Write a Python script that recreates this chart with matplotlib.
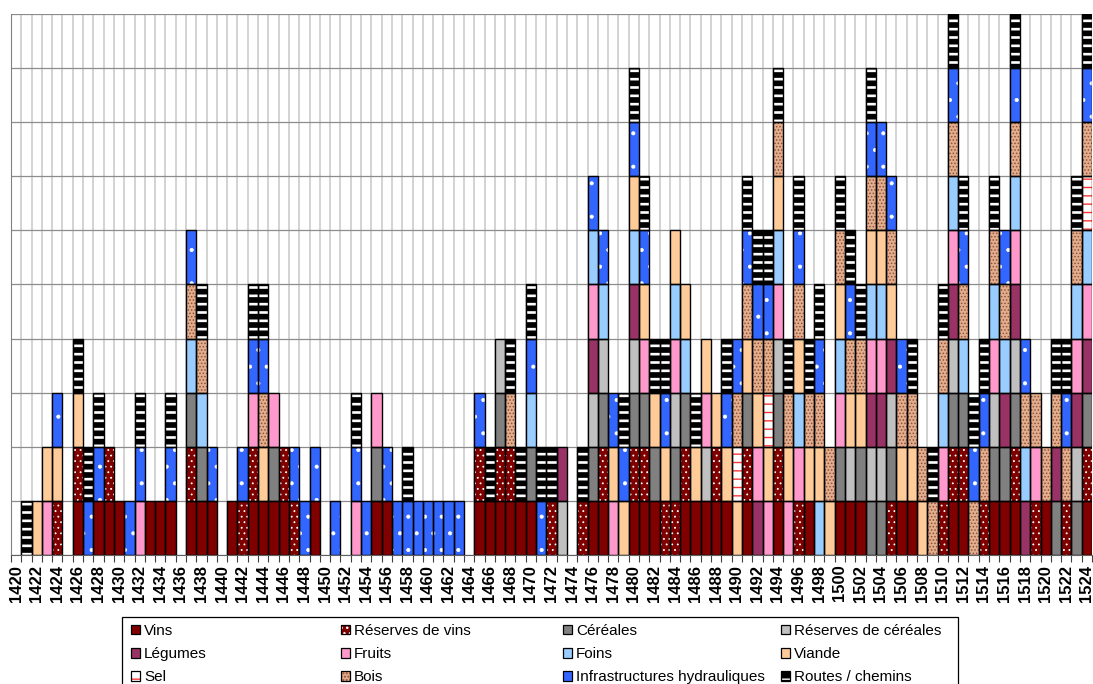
import numpy as np
import matplotlib
matplotlib.use("Agg")
import matplotlib.pyplot as plt
from matplotlib.patches import Patch, Rectangle
from matplotlib.legend_handler import HandlerTuple

plt.rcParams['font.family'] = ['Liberation Sans', 'DejaVu Sans']

# ---------------- data (years in which one block of each category is present) ----------------
years = list(range(1420, 1525))

labels = ["Vins", "Réserves de vins", "Céréales", "Réserves de céréales",
          "Légumes", "Fruits", "Foins", "Viande",
          "Sel", "Bois", "Infrastructures hydrauliques", "Routes / chemins"]

vins = [1426, 1428, 1429, 1430, 1433, 1434, 1435, 1437, 1438, 1439, 1441, 1443, 1444,
        1445, 1446, 1449, 1455, 1456, 1465, 1466, 1467, 1468, 1469, 1470, 1476, 1477,
        1480, 1481, 1482, 1485, 1486, 1487, 1488, 1489, 1491, 1494, 1497, 1500, 1501,
        1502, 1506, 1507, 1511, 1512, 1515, 1516, 1517, 1520, 1524]
reserves_vins = [1424, 1426, 1429, 1437, 1442, 1443, 1446, 1447, 1465, 1467, 1468, 1472,
                 1475, 1477, 1480, 1481, 1483, 1484, 1485, 1488, 1491, 1494, 1496, 1505,
                 1510, 1511, 1512, 1514, 1517, 1519, 1522, 1524]
cereales = [1437, 1438, 1445, 1455, 1467, 1470, 1476, 1477, 1480, 1481, 1482, 1484, 1485,
            1491, 1494, 1500, 1502, 1503, 1504, 1505, 1511, 1512, 1515, 1516, 1517, 1521,
            1523, 1524]
reserves_cereales = [1467, 1473, 1476, 1477, 1480, 1484, 1487, 1494, 1501, 1503, 1504,
                     1505, 1511, 1515, 1517, 1523]
legumes = [1473, 1476, 1480, 1492, 1503, 1504, 1505, 1511, 1516, 1517, 1518, 1521, 1523, 1524]
fruits = [1423, 1432, 1443, 1445, 1453, 1455, 1476, 1478, 1481, 1484, 1487, 1492, 1493,
          1494, 1495, 1496, 1500, 1503, 1504, 1510, 1511, 1515, 1517, 1519, 1523, 1524]
foins = [1437, 1438, 1470, 1476, 1477, 1480, 1484, 1485, 1494, 1496, 1498, 1500, 1503,
         1504, 1510, 1511, 1512, 1515, 1516, 1517, 1518, 1523, 1524]
viande = [1422, 1423, 1424, 1426, 1444, 1478, 1479, 1480, 1481, 1482, 1483, 1484, 1485,
          1486, 1487, 1488, 1489, 1490, 1491, 1492, 1493, 1494, 1495, 1496, 1497, 1498,
          1499, 1500, 1501, 1502, 1503, 1504, 1505, 1506, 1507, 1508]
sel = [1490, 1493, 1524]
bois = [1437, 1438, 1444, 1468, 1490, 1491, 1492, 1493, 1494, 1495, 1496, 1497, 1498,
        1499, 1500, 1501, 1502, 1503, 1504, 1505, 1506, 1507, 1508, 1509, 1510, 1511,
        1512, 1513, 1514, 1515, 1516, 1517, 1518, 1519, 1520, 1521, 1522, 1523, 1524]
hydrauliques = [1424, 1427, 1428, 1431, 1432, 1435, 1437, 1439, 1442, 1443, 1444, 1447,
                1448, 1449, 1451, 1453, 1454, 1456, 1457, 1458, 1459, 1460, 1461, 1462,
                1463, 1465, 1470, 1471, 1476, 1477, 1478, 1479, 1480, 1481, 1483, 1489,
                1490, 1491, 1492, 1493, 1496, 1498, 1501, 1503, 1504, 1505, 1506, 1511,
                1512, 1513, 1514, 1516, 1517, 1518, 1522, 1524]
routes = [1421, 1426, 1427, 1428, 1432, 1435, 1438, 1443, 1444, 1453, 1458, 1466, 1468,
          1469, 1470, 1471, 1472, 1475, 1479, 1480, 1481, 1482, 1483, 1486, 1489, 1491,
          1492, 1493, 1494, 1495, 1496, 1497, 1498, 1500, 1501, 1502, 1503, 1507, 1509,
          1510, 1511, 1512, 1513, 1514, 1515, 1517, 1521, 1522, 1523, 1524]

series_years = [vins, reserves_vins, cereales, reserves_cereales, legumes, fruits,
                foins, viande, sel, bois, hydrauliques, routes]

# ---------------- styles ----------------
faces = ['#800000', '#800000', '#808080', '#C0C0C0', '#993366', '#FF99CC',
         '#99CCFF', '#FFCC99', '#FFFFFF', '#E2AE90', '#3366FF', '#000000']
hatches = [None, '...', None, None, None, None, None, None, '--', '.....', '.', '--']
hcolors = ['#800000', '#FFFFFF', '#808080', '#C0C0C0', '#993366', '#FF99CC',
           '#99CCFF', '#FFCC99', '#FF3333', '#94502F', '#FFFFFF', '#FFFFFF']
hlws = [1, 0.6, 1, 1, 1, 1, 1, 1, 1.0, 0.7, 0.5, 1.9]


def set_hlw(p, w):
    if hasattr(p, 'set_hatch_linewidth'):
        p.set_hatch_linewidth(w)


W, H = 1093, 684
fig = plt.figure(figsize=(W / 100, H / 100), dpi=100)
ax = fig.add_axes([11 / W, 1 - 555 / H, 1081 / W, 541 / H])

x = np.arange(len(years))
bottom = np.zeros(len(years))
for i, yl in enumerate(series_years):
    vals = np.array([1.0 if y in yl else 0.0 for y in years])
    m = vals > 0
    bars = ax.bar(x[m], vals[m], width=1.0, bottom=bottom[m], color=faces[i],
                  hatch=hatches[i], edgecolor=hcolors[i], linewidth=0, zorder=2)
    for p in bars:
        set_hlw(p, hlws[i])
    ax.bar(x[m], vals[m], width=1.0, bottom=bottom[m], facecolor='none',
           edgecolor='black', linewidth=1.0, zorder=3)
    bottom += vals

ax.set_xlim(-0.5, len(years) - 0.5)
ax.set_ylim(0, 10)
ax.set_yticks(np.arange(0, 11, 1))
ax.set_yticklabels([])
ax.tick_params(axis='y', length=0)

ax.set_xticks(x[::2])
ax.set_xticklabels([str(y) for y in years[::2]], rotation=90, fontsize=12,
                   fontweight='bold')
ax.set_xticks(np.arange(-0.5, len(years), 1), minor=True)
ax.tick_params(axis='x', which='major', length=0, pad=7)
ax.tick_params(axis='x', which='minor', length=5, width=0.8, color='#404040')

ax.grid(axis='y', which='major', color='#8C8C8C', linewidth=0.9, zorder=0)
ax.grid(axis='x', which='minor', color='#C8C8C8', linewidth=1.1, zorder=0)
ax.set_axisbelow(True)
for s in ['top', 'right']:
    ax.spines[s].set_visible(False)
ax.spines['left'].set_color('#808080')
ax.spines['bottom'].set_color('#606060')

# ---------------- legend ----------------
frame = Rectangle((122 / W, -0.05), (958 - 122) / W, (684 - 617) / H + 0.05,
                  transform=fig.transFigure, fill=False, edgecolor='black',
                  linewidth=0.9)
fig.add_artist(frame)

col_x = [131, 341, 563, 781]
for j in range(4):
    idx = [j, 4 + j, 8 + j]
    handles = []
    for i in idx:
        hfill = Patch(facecolor=faces[i], hatch=hatches[i], edgecolor=hcolors[i],
                      linewidth=0)
        set_hlw(hfill, hlws[i])
        hb = Patch(facecolor='none', edgecolor='black', linewidth=0.9)
        handles.append((hfill, hb))
    fig.legend(handles, [labels[i] for i in idx], loc='upper left',
               bbox_to_anchor=(col_x[j] / W, 1 - 624 / H),
               bbox_transform=fig.transFigure, frameon=False, fontsize=11,
               handlelength=0.6, handleheight=0.6, handletextpad=0.25,
               labelspacing=0.6, borderpad=0, borderaxespad=0,
               handler_map={tuple: HandlerTuple(ndivide=1, pad=0)})

fig.savefig('out.png', dpi=100)
